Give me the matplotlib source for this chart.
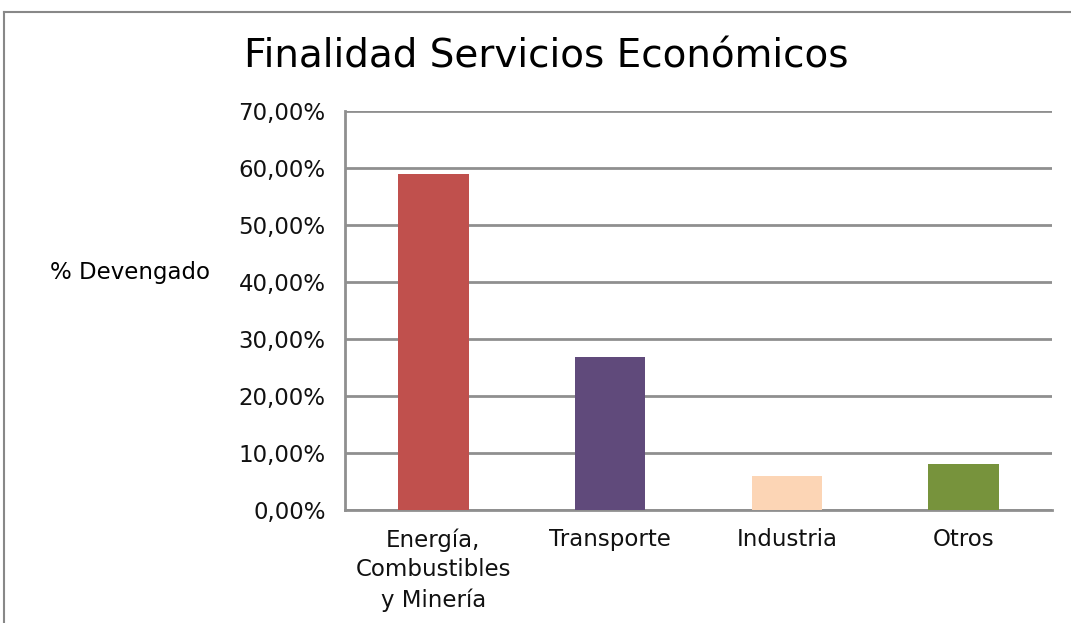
import numpy as np
import matplotlib.pyplot as plt
from matplotlib.lines import Line2D
from matplotlib.ticker import FuncFormatter

plt.rcParams['font.family'] = ['DejaVu Sans']

# datos del grafico
categorias = ['Energía,\nCombustibles\ny Minería', 'Transporte', 'Industria', 'Otros']
devengado = [58.9, 26.9, 6.0, 8.1]
colores = ['#C0504D', '#604A7B', '#FCD5B5', '#77933C']
ticks_y = [0, 10, 20, 30, 40, 50, 60, 70]

fig = plt.figure(figsize=(10.71, 6.23), dpi=100)
ax = fig.add_axes([345/1071, 1-510/623, (1052-345)/1071, (510-111)/623])

x = np.arange(len(categorias))
ax.bar(x, devengado, width=0.4, color=colores, zorder=3)

ax.set_xlim(-0.5, len(categorias)-0.5)
ax.set_ylim(0, 70)
ax.set_yticks(ticks_y)
ax.yaxis.set_major_formatter(FuncFormatter(lambda v, p: f'{v:.2f}%'.replace('.', ',')))
ax.set_xticks(x)
ax.set_xticklabels(categorias, fontsize=16.5, linespacing=1.38)
ax.tick_params(axis='y', labelsize=16.5, length=0, pad=14, colors='#111111')
ax.tick_params(axis='x', length=0, pad=13, colors='#111111')

ax.grid(axis='y', color='#8F8F8F', linewidth=2, zorder=0)
for s in ['top', 'right']:
    ax.spines[s].set_visible(False)
ax.spines['left'].set_color('#8F8F8F')
ax.spines['left'].set_linewidth(2)
ax.spines['bottom'].set_color('#8F8F8F')
ax.spines['bottom'].set_linewidth(2)

fig.text(130/1071, 1-273/623, '% Devengado', fontsize=16.5, ha='center', va='center')
fig.text(546/1071, 1-56/623, 'Finalidad Servicios Económicos', fontsize=28, ha='center', va='center')

# marco del grafico
fig.add_artist(Line2D([4/1071, 1], [1-12/623, 1-12/623], color='#888888', lw=1.5))
fig.add_artist(Line2D([4/1071, 4/1071], [0, 1-12/623], color='#888888', lw=1.5))

fig.savefig('out.png', dpi=100)
